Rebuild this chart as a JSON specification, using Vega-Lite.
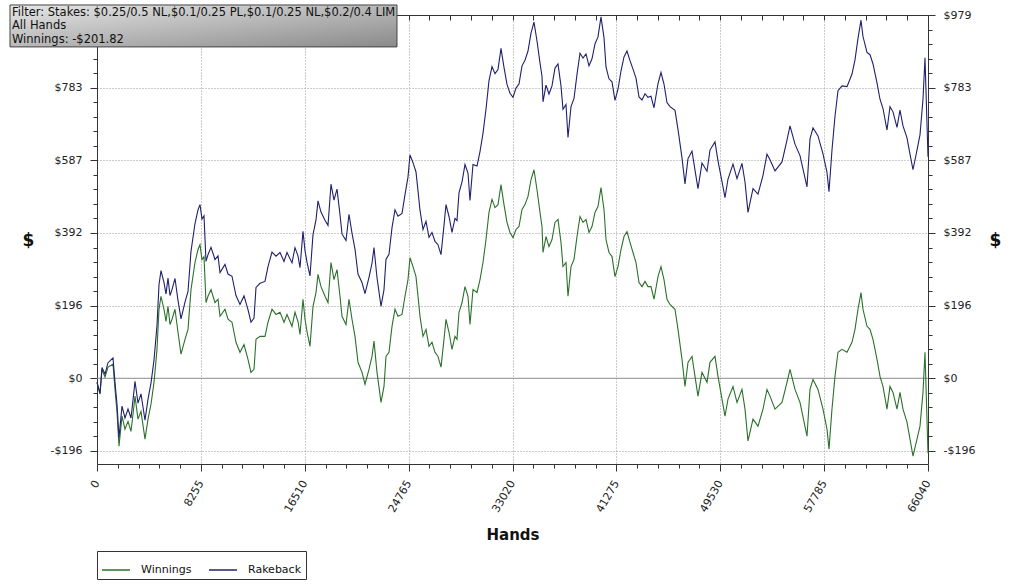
{
  "$schema": "https://vega.github.io/schema/vega-lite/v6.json",
  "width": 831,
  "height": 449,
  "autosize": "none",
  "padding": {"left": 97, "top": 15, "right": 96, "bottom": 120},
  "background": "white",
  "data": {
    "values": [
      {"h": 0, "Winnings": -11, "Rakeback": -11},
      {"h": 238, "Winnings": -43, "Rakeback": -40},
      {"h": 397, "Winnings": 24, "Rakeback": 29},
      {"h": 636, "Winnings": 3, "Rakeback": 11},
      {"h": 874, "Winnings": 30, "Rakeback": 42},
      {"h": 1272, "Winnings": 38, "Rakeback": 55},
      {"h": 1430, "Winnings": -30, "Rakeback": -11},
      {"h": 1589, "Winnings": -91, "Rakeback": -70},
      {"h": 1748, "Winnings": -183, "Rakeback": -160},
      {"h": 1987, "Winnings": -102, "Rakeback": -75},
      {"h": 2225, "Winnings": -137, "Rakeback": -107},
      {"h": 2464, "Winnings": -116, "Rakeback": -83},
      {"h": 2702, "Winnings": -143, "Rakeback": -107},
      {"h": 2861, "Winnings": -97, "Rakeback": -59},
      {"h": 3020, "Winnings": -48, "Rakeback": -8},
      {"h": 3258, "Winnings": -110, "Rakeback": -67},
      {"h": 3497, "Winnings": -89, "Rakeback": -42},
      {"h": 3815, "Winnings": -164, "Rakeback": -113},
      {"h": 4053, "Winnings": -110, "Rakeback": -56},
      {"h": 4291, "Winnings": -70, "Rakeback": -13},
      {"h": 4530, "Winnings": -11, "Rakeback": 49},
      {"h": 4768, "Winnings": 78, "Rakeback": 142},
      {"h": 4927, "Winnings": 186, "Rakeback": 252},
      {"h": 5086, "Winnings": 221, "Rakeback": 290},
      {"h": 5325, "Winnings": 186, "Rakeback": 258},
      {"h": 5483, "Winnings": 153, "Rakeback": 227},
      {"h": 5642, "Winnings": 194, "Rakeback": 270},
      {"h": 5801, "Winnings": 145, "Rakeback": 223},
      {"h": 5960, "Winnings": 159, "Rakeback": 239},
      {"h": 6199, "Winnings": 186, "Rakeback": 269},
      {"h": 6437, "Winnings": 124, "Rakeback": 210},
      {"h": 6675, "Winnings": 65, "Rakeback": 160},
      {"h": 6993, "Winnings": 105, "Rakeback": 205},
      {"h": 7232, "Winnings": 132, "Rakeback": 234},
      {"h": 7470, "Winnings": 239, "Rakeback": 342},
      {"h": 7788, "Winnings": 312, "Rakeback": 417},
      {"h": 8026, "Winnings": 347, "Rakeback": 454},
      {"h": 8185, "Winnings": 360, "Rakeback": 468},
      {"h": 8344, "Winnings": 320, "Rakeback": 429},
      {"h": 8503, "Winnings": 328, "Rakeback": 438},
      {"h": 8662, "Winnings": 204, "Rakeback": 315},
      {"h": 8821, "Winnings": 221, "Rakeback": 333},
      {"h": 9060, "Winnings": 239, "Rakeback": 353},
      {"h": 9377, "Winnings": 204, "Rakeback": 320},
      {"h": 9616, "Winnings": 213, "Rakeback": 330},
      {"h": 9775, "Winnings": 167, "Rakeback": 285},
      {"h": 10172, "Winnings": 186, "Rakeback": 307},
      {"h": 10411, "Winnings": 159, "Rakeback": 281},
      {"h": 10728, "Winnings": 151, "Rakeback": 275},
      {"h": 11046, "Winnings": 97, "Rakeback": 223},
      {"h": 11364, "Winnings": 70, "Rakeback": 199},
      {"h": 11682, "Winnings": 91, "Rakeback": 222},
      {"h": 12000, "Winnings": 51, "Rakeback": 185},
      {"h": 12238, "Winnings": 16, "Rakeback": 151},
      {"h": 12477, "Winnings": 24, "Rakeback": 162},
      {"h": 12636, "Winnings": 105, "Rakeback": 245},
      {"h": 12954, "Winnings": 113, "Rakeback": 256},
      {"h": 13351, "Winnings": 113, "Rakeback": 261},
      {"h": 13589, "Winnings": 151, "Rakeback": 301},
      {"h": 13907, "Winnings": 186, "Rakeback": 340},
      {"h": 14225, "Winnings": 172, "Rakeback": 329},
      {"h": 14543, "Winnings": 178, "Rakeback": 339},
      {"h": 14861, "Winnings": 151, "Rakeback": 315},
      {"h": 15099, "Winnings": 172, "Rakeback": 339},
      {"h": 15497, "Winnings": 140, "Rakeback": 311},
      {"h": 15735, "Winnings": 178, "Rakeback": 352},
      {"h": 15973, "Winnings": 153, "Rakeback": 330},
      {"h": 16132, "Winnings": 118, "Rakeback": 298},
      {"h": 16371, "Winnings": 213, "Rakeback": 396},
      {"h": 16530, "Winnings": 159, "Rakeback": 344},
      {"h": 16689, "Winnings": 126, "Rakeback": 313},
      {"h": 16927, "Winnings": 86, "Rakeback": 276},
      {"h": 17166, "Winnings": 194, "Rakeback": 387},
      {"h": 17404, "Winnings": 231, "Rakeback": 427},
      {"h": 17563, "Winnings": 280, "Rakeback": 478},
      {"h": 17801, "Winnings": 247, "Rakeback": 448},
      {"h": 18119, "Winnings": 221, "Rakeback": 426},
      {"h": 18358, "Winnings": 204, "Rakeback": 412},
      {"h": 18596, "Winnings": 312, "Rakeback": 523},
      {"h": 18834, "Winnings": 266, "Rakeback": 480},
      {"h": 19073, "Winnings": 293, "Rakeback": 510},
      {"h": 19311, "Winnings": 221, "Rakeback": 441},
      {"h": 19470, "Winnings": 167, "Rakeback": 389},
      {"h": 19788, "Winnings": 145, "Rakeback": 371},
      {"h": 20026, "Winnings": 213, "Rakeback": 442},
      {"h": 20265, "Winnings": 159, "Rakeback": 391},
      {"h": 20503, "Winnings": 113, "Rakeback": 348},
      {"h": 20742, "Winnings": 43, "Rakeback": 281},
      {"h": 21060, "Winnings": 16, "Rakeback": 258},
      {"h": 21298, "Winnings": -16, "Rakeback": 228},
      {"h": 21616, "Winnings": 24, "Rakeback": 272},
      {"h": 21854, "Winnings": 59, "Rakeback": 310},
      {"h": 22013, "Winnings": 100, "Rakeback": 352},
      {"h": 22252, "Winnings": 16, "Rakeback": 271},
      {"h": 22411, "Winnings": -24, "Rakeback": 233},
      {"h": 22569, "Winnings": -65, "Rakeback": 194},
      {"h": 22808, "Winnings": -22, "Rakeback": 239},
      {"h": 22967, "Winnings": 59, "Rakeback": 321},
      {"h": 23205, "Winnings": 70, "Rakeback": 334},
      {"h": 23444, "Winnings": 140, "Rakeback": 406},
      {"h": 23682, "Winnings": 186, "Rakeback": 454},
      {"h": 23920, "Winnings": 167, "Rakeback": 437},
      {"h": 24238, "Winnings": 172, "Rakeback": 444},
      {"h": 24477, "Winnings": 221, "Rakeback": 495},
      {"h": 24715, "Winnings": 266, "Rakeback": 542},
      {"h": 24874, "Winnings": 325, "Rakeback": 602},
      {"h": 25113, "Winnings": 301, "Rakeback": 581},
      {"h": 25351, "Winnings": 274, "Rakeback": 556},
      {"h": 25510, "Winnings": 221, "Rakeback": 505},
      {"h": 25669, "Winnings": 167, "Rakeback": 453},
      {"h": 25907, "Winnings": 113, "Rakeback": 401},
      {"h": 26146, "Winnings": 132, "Rakeback": 423},
      {"h": 26384, "Winnings": 86, "Rakeback": 380},
      {"h": 26622, "Winnings": 97, "Rakeback": 393},
      {"h": 26861, "Winnings": 70, "Rakeback": 369},
      {"h": 27099, "Winnings": 59, "Rakeback": 360},
      {"h": 27338, "Winnings": 30, "Rakeback": 333},
      {"h": 27576, "Winnings": 105, "Rakeback": 412},
      {"h": 27735, "Winnings": 159, "Rakeback": 468},
      {"h": 27973, "Winnings": 124, "Rakeback": 436},
      {"h": 28212, "Winnings": 78, "Rakeback": 393},
      {"h": 28450, "Winnings": 113, "Rakeback": 431},
      {"h": 28609, "Winnings": 105, "Rakeback": 425},
      {"h": 28768, "Winnings": 178, "Rakeback": 500},
      {"h": 29007, "Winnings": 204, "Rakeback": 529},
      {"h": 29245, "Winnings": 247, "Rakeback": 576},
      {"h": 29483, "Winnings": 221, "Rakeback": 553},
      {"h": 29642, "Winnings": 145, "Rakeback": 479},
      {"h": 29881, "Winnings": 239, "Rakeback": 576},
      {"h": 30199, "Winnings": 231, "Rakeback": 572},
      {"h": 30437, "Winnings": 266, "Rakeback": 611},
      {"h": 30675, "Winnings": 312, "Rakeback": 660},
      {"h": 30914, "Winnings": 374, "Rakeback": 725},
      {"h": 31152, "Winnings": 447, "Rakeback": 802},
      {"h": 31391, "Winnings": 482, "Rakeback": 840},
      {"h": 31629, "Winnings": 460, "Rakeback": 821},
      {"h": 31867, "Winnings": 468, "Rakeback": 832},
      {"h": 32106, "Winnings": 522, "Rakeback": 889},
      {"h": 32344, "Winnings": 468, "Rakeback": 838},
      {"h": 32583, "Winnings": 420, "Rakeback": 792},
      {"h": 32821, "Winnings": 393, "Rakeback": 768},
      {"h": 33060, "Winnings": 379, "Rakeback": 757},
      {"h": 33298, "Winnings": 401, "Rakeback": 782},
      {"h": 33536, "Winnings": 409, "Rakeback": 793},
      {"h": 33775, "Winnings": 455, "Rakeback": 842},
      {"h": 34013, "Winnings": 468, "Rakeback": 857},
      {"h": 34252, "Winnings": 490, "Rakeback": 882},
      {"h": 34490, "Winnings": 535, "Rakeback": 930},
      {"h": 34728, "Winnings": 562, "Rakeback": 960},
      {"h": 34967, "Winnings": 508, "Rakeback": 909},
      {"h": 35205, "Winnings": 447, "Rakeback": 850},
      {"h": 35364, "Winnings": 409, "Rakeback": 814},
      {"h": 35444, "Winnings": 339, "Rakeback": 745},
      {"h": 35682, "Winnings": 382, "Rakeback": 790},
      {"h": 35920, "Winnings": 355, "Rakeback": 766},
      {"h": 36159, "Winnings": 374, "Rakeback": 788},
      {"h": 36397, "Winnings": 420, "Rakeback": 836},
      {"h": 36636, "Winnings": 428, "Rakeback": 847},
      {"h": 36874, "Winnings": 366, "Rakeback": 788},
      {"h": 37033, "Winnings": 301, "Rakeback": 725},
      {"h": 37271, "Winnings": 312, "Rakeback": 738},
      {"h": 37430, "Winnings": 221, "Rakeback": 649},
      {"h": 37669, "Winnings": 301, "Rakeback": 732},
      {"h": 37907, "Winnings": 320, "Rakeback": 754},
      {"h": 38146, "Winnings": 382, "Rakeback": 819},
      {"h": 38384, "Winnings": 436, "Rakeback": 876},
      {"h": 38622, "Winnings": 420, "Rakeback": 863},
      {"h": 38861, "Winnings": 428, "Rakeback": 874},
      {"h": 39099, "Winnings": 393, "Rakeback": 842},
      {"h": 39338, "Winnings": 409, "Rakeback": 861},
      {"h": 39576, "Winnings": 447, "Rakeback": 901},
      {"h": 39814, "Winnings": 463, "Rakeback": 920},
      {"h": 40053, "Winnings": 514, "Rakeback": 974},
      {"h": 40291, "Winnings": 455, "Rakeback": 918},
      {"h": 40450, "Winnings": 374, "Rakeback": 839},
      {"h": 40689, "Winnings": 339, "Rakeback": 807},
      {"h": 40927, "Winnings": 328, "Rakeback": 799},
      {"h": 41165, "Winnings": 274, "Rakeback": 749},
      {"h": 41404, "Winnings": 301, "Rakeback": 779},
      {"h": 41642, "Winnings": 347, "Rakeback": 828},
      {"h": 41881, "Winnings": 382, "Rakeback": 866},
      {"h": 42119, "Winnings": 395, "Rakeback": 882},
      {"h": 42358, "Winnings": 366, "Rakeback": 856},
      {"h": 42596, "Winnings": 339, "Rakeback": 833},
      {"h": 42834, "Winnings": 312, "Rakeback": 809},
      {"h": 43073, "Winnings": 258, "Rakeback": 758},
      {"h": 43311, "Winnings": 247, "Rakeback": 750},
      {"h": 43550, "Winnings": 261, "Rakeback": 767},
      {"h": 43788, "Winnings": 247, "Rakeback": 757},
      {"h": 44026, "Winnings": 247, "Rakeback": 760},
      {"h": 44265, "Winnings": 213, "Rakeback": 729},
      {"h": 44583, "Winnings": 274, "Rakeback": 794},
      {"h": 44821, "Winnings": 301, "Rakeback": 824},
      {"h": 45059, "Winnings": 266, "Rakeback": 793},
      {"h": 45298, "Winnings": 213, "Rakeback": 743},
      {"h": 45536, "Winnings": 199, "Rakeback": 732},
      {"h": 45934, "Winnings": 186, "Rakeback": 722},
      {"h": 46172, "Winnings": 132, "Rakeback": 671},
      {"h": 46490, "Winnings": 51, "Rakeback": 594},
      {"h": 46728, "Winnings": -22, "Rakeback": 524},
      {"h": 46967, "Winnings": 43, "Rakeback": 592},
      {"h": 47285, "Winnings": 59, "Rakeback": 612},
      {"h": 47523, "Winnings": 5, "Rakeback": 561},
      {"h": 47761, "Winnings": -48, "Rakeback": 511},
      {"h": 48079, "Winnings": 16, "Rakeback": 580},
      {"h": 48477, "Winnings": -11, "Rakeback": 558},
      {"h": 48715, "Winnings": 43, "Rakeback": 615},
      {"h": 49112, "Winnings": 59, "Rakeback": 637},
      {"h": 49351, "Winnings": 5, "Rakeback": 586},
      {"h": 49669, "Winnings": -56, "Rakeback": 530},
      {"h": 49907, "Winnings": -102, "Rakeback": 487},
      {"h": 50146, "Winnings": -56, "Rakeback": 537},
      {"h": 50543, "Winnings": -22, "Rakeback": 577},
      {"h": 50861, "Winnings": -65, "Rakeback": 538},
      {"h": 51258, "Winnings": -30, "Rakeback": 579},
      {"h": 51497, "Winnings": -83, "Rakeback": 529},
      {"h": 51735, "Winnings": -169, "Rakeback": 447},
      {"h": 52132, "Winnings": -110, "Rakeback": 511},
      {"h": 52530, "Winnings": -129, "Rakeback": 496},
      {"h": 52927, "Winnings": -83, "Rakeback": 547},
      {"h": 53245, "Winnings": -30, "Rakeback": 604},
      {"h": 53483, "Winnings": -48, "Rakeback": 589},
      {"h": 53881, "Winnings": -83, "Rakeback": 559},
      {"h": 54437, "Winnings": -65, "Rakeback": 583},
      {"h": 54834, "Winnings": -11, "Rakeback": 642},
      {"h": 55073, "Winnings": 24, "Rakeback": 680},
      {"h": 55470, "Winnings": -30, "Rakeback": 631},
      {"h": 55867, "Winnings": -65, "Rakeback": 600},
      {"h": 56424, "Winnings": -156, "Rakeback": 516},
      {"h": 56662, "Winnings": -30, "Rakeback": 645},
      {"h": 56901, "Winnings": -3, "Rakeback": 675},
      {"h": 57298, "Winnings": -30, "Rakeback": 653},
      {"h": 57695, "Winnings": -83, "Rakeback": 605},
      {"h": 58013, "Winnings": -137, "Rakeback": 555},
      {"h": 58172, "Winnings": -191, "Rakeback": 503},
      {"h": 58410, "Winnings": -83, "Rakeback": 615},
      {"h": 58649, "Winnings": 5, "Rakeback": 706},
      {"h": 58887, "Winnings": 70, "Rakeback": 775},
      {"h": 59205, "Winnings": 78, "Rakeback": 788},
      {"h": 59603, "Winnings": 70, "Rakeback": 786},
      {"h": 60000, "Winnings": 97, "Rakeback": 820},
      {"h": 60238, "Winnings": 132, "Rakeback": 858},
      {"h": 60477, "Winnings": 186, "Rakeback": 916},
      {"h": 60715, "Winnings": 231, "Rakeback": 965},
      {"h": 60874, "Winnings": 186, "Rakeback": 921},
      {"h": 61192, "Winnings": 140, "Rakeback": 878},
      {"h": 61430, "Winnings": 132, "Rakeback": 872},
      {"h": 61669, "Winnings": 105, "Rakeback": 847},
      {"h": 61987, "Winnings": 51, "Rakeback": 796},
      {"h": 62225, "Winnings": 5, "Rakeback": 752},
      {"h": 62463, "Winnings": -22, "Rakeback": 727},
      {"h": 62781, "Winnings": -83, "Rakeback": 669},
      {"h": 63020, "Winnings": -22, "Rakeback": 732},
      {"h": 63258, "Winnings": -38, "Rakeback": 718},
      {"h": 63576, "Winnings": -83, "Rakeback": 676},
      {"h": 63814, "Winnings": -38, "Rakeback": 723},
      {"h": 64053, "Winnings": -83, "Rakeback": 680},
      {"h": 64371, "Winnings": -118, "Rakeback": 648},
      {"h": 64609, "Winnings": -164, "Rakeback": 604},
      {"h": 64848, "Winnings": -210, "Rakeback": 562},
      {"h": 65165, "Winnings": -164, "Rakeback": 615},
      {"h": 65404, "Winnings": -129, "Rakeback": 656},
      {"h": 65642, "Winnings": -38, "Rakeback": 752},
      {"h": 65801, "Winnings": 70, "Rakeback": 864},
      {"h": 66040, "Winnings": -202, "Rakeback": 597}
    ]
  },
  "resolve": {
    "scale": {"x": "shared", "y": "shared", "color": "shared"},
    "axis": {"x": "independent", "y": "independent"}
  },
  "layer": [
    {
      "data": {"values": [{}]},
      "mark": {"type": "rule", "color": "#8c8c8c", "strokeWidth": 1},
      "encoding": {
        "y": {"datum": 0, "type": "quantitative", "scale": {"domain": [-231, 979], "nice": false, "zero": false}, "axis": null}
      }
    },
    {
      "transform": [
        {"fold": ["Winnings", "Rakeback"], "as": ["series", "dollars"]},
        {"filter": "datum.series === 'Winnings'"}
      ],
      "mark": {"type": "line", "strokeWidth": 1.1},
      "encoding": {
        "x": {
          "field": "h",
          "type": "quantitative",
          "scale": {"domain": [0, 66040], "nice": false, "zero": false},
          "axis": {
            "orient": "bottom",
            "values": [0, 1651, 3302, 4953, 6604, 8255, 9906, 11557, 13208, 14859, 16510, 18161, 19812, 21463, 23114, 24765, 26416, 28067, 29718, 31369, 33020, 34671, 36322, 37973, 39624, 41275, 42926, 44577, 46228, 47879, 49530, 51181, 52832, 54483, 56134, 57785, 59436, 61087, 62738, 64389, 66040],
            "format": "d",
            "labelExpr": "datum.value % 8255 === 0 ? datum.label : ''",
            "labelAngle": -60,
            "labelPadding": 10,
            "labelOverlap": false,
            "labelFlush": false,
            "tickSize": {"condition": {"test": "datum.value % 8255 === 0", "value": 7}, "value": 4},
            "grid": true,
            "gridDash": [1, 2],
            "gridColor": "#999",
            "gridOpacity": {"condition": {"test": "datum.value % 8255 === 0 && datum.value > 0 && datum.value < 66040", "value": 1}, "value": 0},
            "title": "Hands",
            "titleFontSize": 15,
            "titleFontWeight": "bold",
            "titleY": 70,
            "titleBaseline": "middle"
          }
        },
        "y": {
          "field": "dollars",
          "type": "quantitative",
          "scale": {"domain": [-231, 979], "nice": false, "zero": false},
          "axis": {
            "orient": "left",
            "values": [-195.8, -156.64, -117.48, -78.32, -39.16, 0, 39.16, 78.32, 117.48, 156.64, 195.8, 234.96, 274.12, 313.28, 352.44, 391.6, 430.76, 469.92, 509.08, 548.24, 587.4, 626.56, 665.72, 704.88, 744.04, 783.2, 822.36, 861.52, 900.68, 939.84, 979],
            "labelExpr": "abs(datum.value / 195.8 - round(datum.value / 195.8)) < 0.001 && datum.value < 970 ? (datum.value < 0 ? '-$' : '$') + format(abs(datum.value), '.0f') : ''",
            "labelPadding": 8,
            "labelOverlap": false,
            "labelFlush": false,
            "tickSize": {"condition": {"test": "abs(datum.value / 195.8 - round(datum.value / 195.8)) < 0.001", "value": 7}, "value": 4},
            "grid": true,
            "gridDash": [1, 2],
            "gridColor": "#999",
            "gridOpacity": {"condition": {"test": "abs(datum.value / 195.8 - round(datum.value / 195.8)) < 0.001 && datum.value != 0 && datum.value < 970", "value": 1}, "value": 0},
            "title": "$",
            "titleAngle": 0,
            "titleX": -69,
            "titleY": 225,
            "titleAlign": "center",
            "titleBaseline": "middle",
            "titleFontSize": 17,
            "titleFontWeight": "bold"
          }
        },
        "color": {
          "field": "series",
          "type": "nominal",
          "scale": {"domain": ["Winnings", "Rakeback"], "range": ["#2b712b", "#20206e"]},
          "legend": {
            "orient": "none",
            "legendX": 0,
            "legendY": 536,
            "direction": "horizontal",
            "title": null,
            "strokeColor": "#333",
            "fillColor": "white",
            "padding": 4,
            "symbolType": "stroke",
            "symbolSize": 784,
            "symbolStrokeWidth": 1.5,
            "labelFont": "DejaVu Sans",
            "labelFontSize": 11,
            "labelColor": "#111",
            "labelOffset": 10,
            "columnPadding": 14
          }
        }
      }
    },
    {
      "transform": [
        {"fold": ["Winnings", "Rakeback"], "as": ["series", "dollars"]},
        {"filter": "datum.series === 'Rakeback'"}
      ],
      "mark": {"type": "line", "strokeWidth": 1.1},
      "encoding": {
        "x": {
          "field": "h",
          "type": "quantitative",
          "scale": {"domain": [0, 66040], "nice": false, "zero": false},
          "axis": {
            "orient": "top",
            "values": [0, 1651, 3302, 4953, 6604, 8255, 9906, 11557, 13208, 14859, 16510, 18161, 19812, 21463, 23114, 24765, 26416, 28067, 29718, 31369, 33020, 34671, 36322, 37973, 39624, 41275, 42926, 44577, 46228, 47879, 49530, 51181, 52832, 54483, 56134, 57785, 59436, 61087, 62738, 64389, 66040],
            "labels": false,
            "tickSize": -5,
            "grid": false,
            "title": null
          }
        },
        "y": {
          "field": "dollars",
          "type": "quantitative",
          "scale": {"domain": [-231, 979], "nice": false, "zero": false},
          "axis": {
            "orient": "right",
            "values": [-195.8, -156.64, -117.48, -78.32, -39.16, 0, 39.16, 78.32, 117.48, 156.64, 195.8, 234.96, 274.12, 313.28, 352.44, 391.6, 430.76, 469.92, 509.08, 548.24, 587.4, 626.56, 665.72, 704.88, 744.04, 783.2, 822.36, 861.52, 900.68, 939.84, 979],
            "labelExpr": "abs(datum.value / 195.8 - round(datum.value / 195.8)) < 0.001 ? (datum.value < 0 ? '-$' : '$') + format(abs(datum.value), '.0f') : ''",
            "labelPadding": 8,
            "labelOverlap": false,
            "labelFlush": false,
            "tickSize": {"condition": {"test": "abs(datum.value / 195.8 - round(datum.value / 195.8)) < 0.001", "value": 7}, "value": 4},
            "grid": false,
            "title": "$",
            "titleAngle": 0,
            "titleX": 67,
            "titleY": 225,
            "titleAlign": "center",
            "titleBaseline": "middle",
            "titleFontSize": 17,
            "titleFontWeight": "bold"
          }
        },
        "color": {
          "field": "series",
          "type": "nominal",
          "scale": {"domain": ["Winnings", "Rakeback"], "range": ["#2b712b", "#20206e"]},
          "legend": {
            "orient": "none",
            "legendX": 0,
            "legendY": 536,
            "direction": "horizontal",
            "title": null,
            "strokeColor": "#333",
            "fillColor": "white",
            "padding": 4,
            "symbolType": "stroke",
            "symbolSize": 784,
            "symbolStrokeWidth": 1.5,
            "labelFont": "DejaVu Sans",
            "labelFontSize": 11,
            "labelColor": "#111",
            "labelOffset": 10,
            "columnPadding": 14
          }
        }
      }
    },
    {
      "data": {"values": [{}]},
      "mark": {
        "type": "rect",
        "fill": {"gradient": "linear", "x1": 0, "y1": 0, "x2": 1, "y2": 1, "stops": [{"offset": 0, "color": "#e6e6e6"}, {"offset": 1, "color": "#8a8a8a"}]},
        "stroke": "#444",
        "strokeWidth": 1
      },
      "encoding": {
        "x": {"datum": -6914, "type": "quantitative", "scale": {"domain": [0, 66040], "nice": false, "zero": false}, "axis": null},
        "x2": {"datum": 23841},
        "y": {"datum": 1006, "type": "quantitative", "scale": {"domain": [-231, 979], "nice": false, "zero": false}, "axis": null},
        "y2": {"datum": 893}
      }
    },
    {
      "data": {"values": [{}]},
      "mark": {
        "type": "text",
        "text": ["Filter: Stakes: $0.25/0.5 NL,$0.1/0.25 PL,$0.1/0.25 NL,$0.2/0.4 LIM", "All Hands", "Winnings: -$201.82"],
        "align": "left",
        "baseline": "top",
        "font": "DejaVu Sans",
        "fontSize": 11.5,
        "lineHeight": 13.5,
        "color": "#111"
      },
      "encoding": {
        "x": {"datum": -6755, "type": "quantitative", "scale": {"domain": [0, 66040], "nice": false, "zero": false}, "axis": null},
        "y": {"datum": 1001, "type": "quantitative", "scale": {"domain": [-231, 979], "nice": false, "zero": false}, "axis": null}
      }
    }
  ],
  "config": {
    "font": "DejaVu Sans",
    "view": {"stroke": null},
    "axis": {
      "labelFont": "DejaVu Sans",
      "labelFontSize": 11,
      "labelColor": "#222",
      "titleFont": "DejaVu Sans",
      "titleColor": "#111",
      "tickColor": "#333",
      "domainColor": "#333"
    }
  }
}
